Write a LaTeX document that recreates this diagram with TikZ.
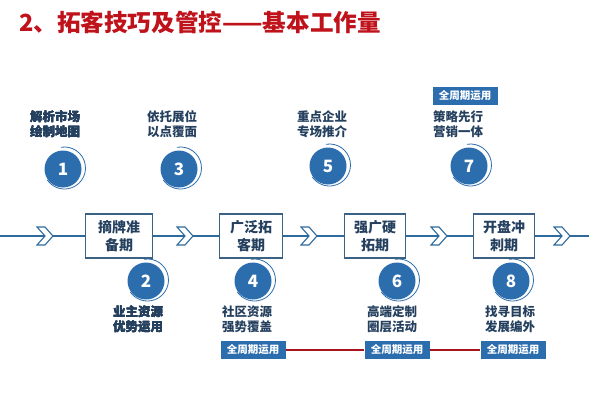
\documentclass[tikz,border=0pt]{standalone}
\usepackage{fontspec}
\setmainfont{Noto Sans CJK SC}
\definecolor{blu}{HTML}{2C6DAE}
\definecolor{txt}{HTML}{24405E}
\definecolor{boxc}{HTML}{3B6282}
\definecolor{linec}{HTML}{2F6A9C}
\definecolor{ttl}{HTML}{C0121B}
\definecolor{redl}{HTML}{A8141C}
\begin{document}
\begin{tikzpicture}[x=1pt,y=1pt,
 lbl/.style={font=\fontsize{12.5}{15}\selectfont\bfseries, text=txt, align=center, inner sep=0},
 stage/.style={draw=boxc, line width=1.3pt, minimum height=44pt, font=\fontsize{14}{18}\selectfont\bfseries, text=txt, align=center, inner sep=0},
 num/.style={circle, fill=blu, minimum size=37pt, inner sep=0, text=white, font=\fontsize{17}{17}\selectfont\bfseries},
 badge/.style={fill=blu, minimum width=65pt, minimum height=18pt, inner sep=0, text=white, font=\fontsize{10.5}{10.5}\selectfont\bfseries},
 chev/.pic={\filldraw[fill=white, draw=linec, line width=1.1pt, line join=miter] (-8pt,9pt)--(0pt,9pt)--(8pt,0pt)--(0pt,-9pt)--(-8pt,-9pt)--(0pt,0pt)--cycle;},
 mainline/.style={draw=linec, line width=1.2pt},
 redline/.style={draw=redl, line width=1.5pt},
 ring/.style={draw=blu, line width=0.8pt}
]
\useasboundingbox (0,0) rectangle (589,400);
\fill[white] (0,0) rectangle (589,400);
\newcommand\ringat[1]{\draw[ring] ([shift={(1.5pt,1pt)}]#1.center) ++(100:21pt) arc[start angle=100, end angle=-145, radius=21pt];}

\node[anchor=west, text=ttl, font=\fontsize{23.6}{23.6}\selectfont\bfseries, inner sep=0] (title) at (19,378) {2、拓客技巧及管控——基本工作量};

% main line
\coordinate (s) at (0,164);
\coordinate (e) at (589,164);
\coordinate (c1) at (45,164);
\coordinate (c2) at (185,164);
\coordinate (c3) at (309,164);
\coordinate (c4) at (439,164);
\coordinate (c5) at (562,164);
\node[stage, minimum width=67pt] (b1) at (119,164) {摘牌准\\备期};
\node[stage, minimum width=63pt] (b2) at (251,164) {广泛拓\\客期};
\node[stage, minimum width=61pt] (b3) at (375,164) {强广硬\\拓期};
\node[stage, minimum width=61pt] (b4) at (504,164) {开盘冲\\刺期};
\draw[mainline] (s) -- (c1) -- (b1.west);
\draw[mainline] (b1.east) -- (c2) -- (b2.west);
\draw[mainline] (b2.east) -- (c3) -- (b3.west);
\draw[mainline] (b3.east) -- (c4) -- (b4.west);
\draw[mainline] (b4.east) -- (c5) -- (e);
\foreach \c in {c1,c2,c3,c4,c5} \pic at (\c) {chev};

% top circles
\node[num] (n1) at (63,231) {1};
\node[num] (n3) at (179,231) {3};
\node[num] (n5) at (328,234) {5};
\node[num] (n7) at (469,234) {7};
\foreach \n in {n1,n3,n5,n7} \ringat{\n}
\node[lbl] (t1) at (55,275.5) {解析市场\\绘制地图};
\node[lbl] (t3) at (172,275.5) {依托展位\\以点覆面};
\node[lbl] (t5) at (322,275.5) {重点企业\\专场推介};
\node[lbl] (t7) at (458,275.5) {策略先行\\营销一体};
\node[badge] (g7) at (465,304) {全周期运用};

% bottom circles
\node[num] (n2) at (146,119) {2};
\node[num] (n4) at (253,119) {4};
\node[num] (n6) at (397,119) {6};
\node[num] (n8) at (511,119) {8};
\foreach \n in {n2,n4,n6,n8} \ringat{\n}
\node[lbl] (t2) at (138,80.5) {业主资源\\优势运用};
\node[lbl] (t4) at (247,80.5) {社区资源\\强势覆盖};
\node[lbl] (t6) at (392,80.5) {高端定制\\圈层活动};
\node[lbl] (t8) at (510,80.5) {找寻目标\\发展编外};
\node[badge] (g4) at (253,50) {全周期运用};
\node[badge] (g6) at (397,50) {全周期运用};
\node[badge] (g8) at (513,50) {全周期运用};
\draw[redline] (g4.east) -- (g6.west);
\draw[redline] (g6.east) -- (g8.west);
\end{tikzpicture}
\end{document}
